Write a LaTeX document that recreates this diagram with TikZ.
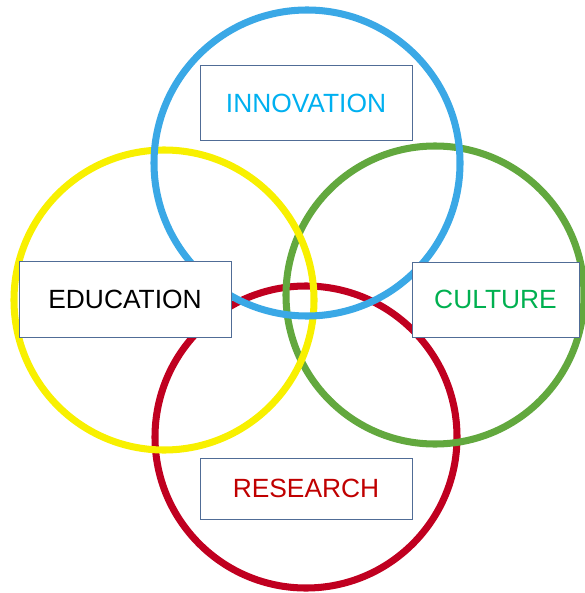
\documentclass[tikz,border=0pt]{standalone}
\usepackage{fontspec}
\setmainfont{Liberation Sans}
\usepackage{xcolor}
\usetikzlibrary{shapes, positioning}

\definecolor{ringblue}{RGB}{58,168,230}
\definecolor{ringyellow}{RGB}{248,240,0}
\definecolor{ringgreen}{RGB}{98,168,62}
\definecolor{ringred}{RGB}{192,0,32}
\definecolor{boxline}{RGB}{80,108,150}
\definecolor{txtblue}{RGB}{0,176,240}
\definecolor{txtgreen}{RGB}{0,176,80}
\definecolor{txtred}{RGB}{192,0,0}

\tikzset{
    ring/.style={circle, draw, line width=6pt, inner sep=0pt, outer sep=0pt},
    label box/.style={rectangle, draw=boxline, line width=0.8pt, fill=white,
        inner sep=0pt, font=\fontsize{22.5}{26}\selectfont}
}

\begin{document}
\begin{tikzpicture}[x=0.03cm, y=-0.03cm]
        \useasboundingbox (0, 0) rectangle (584, 593);

        \node[ring, draw=ringred, minimum size=9.06cm] (research ring) at (306, 437) {};
        \node[ring, draw=ringgreen, minimum size=8.94cm] (culture ring) at (435, 295) {};
        \node[ring, draw=ringyellow, minimum size=9cm] (education ring) at (164, 300) {};
        \node[ring, draw=ringblue, minimum size=9.18cm] (innovation ring) at (307, 163) {};

        \node[label box, minimum width=6.36cm, minimum height=2.25cm, text=txtblue] (innovation) at (306, 103) {INNOVATION};
        \node[label box, minimum width=6.36cm, minimum height=2.28cm, text=black] (education) at (125, 299) {EDUCATION};
        \node[label box, minimum width=5.01cm, minimum height=2.25cm, text=txtgreen] (culture) at (495.5, 299.5) {CULTURE};
        \node[label box, minimum width=6.36cm, minimum height=1.83cm, text=txtred] (research) at (306, 488.5) {RESEARCH};
    \end{tikzpicture}
\end{document}
